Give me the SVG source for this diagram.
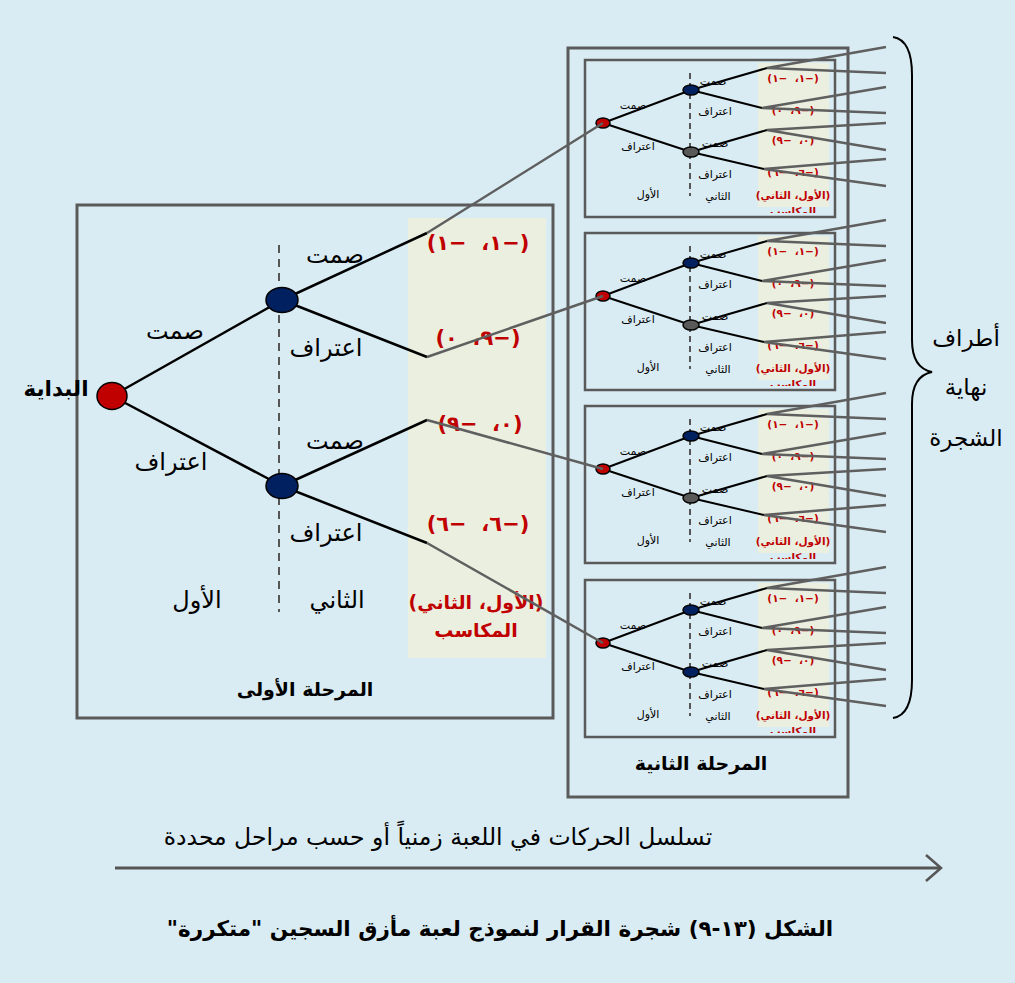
<svg xmlns="http://www.w3.org/2000/svg" xmlns:xlink="http://www.w3.org/1999/xlink" width="1015" height="983" viewBox="0 0 1015 983">
<style>
text{font-family:"DejaVu Sans","Liberation Sans",sans-serif;text-anchor:middle;fill:#000;direction:rtl}
.l{font-size:24px}
.m{font-size:23px}
.b{font-size:19px;font-weight:bold}
.pay{font-size:21px;font-weight:bold;fill:#c00000;white-space:pre}
.payl{font-size:19px;font-weight:bold;fill:#c00000}
.s{font-size:11px}
.sp{font-size:10.5px;font-weight:bold;fill:#c00000;white-space:pre}
.spl{font-size:10.5px;font-weight:bold;fill:#c00000}
.frame{fill:none;stroke:#5a5a5a;stroke-width:3}
.sframe{fill:none;stroke:#5a5a5a;stroke-width:2.5}
.beige{fill:#ebefdf}
.br{stroke:#000;stroke-width:2.5;fill:none}
.sbr{stroke:#000;stroke-width:2;fill:none}
.dash{stroke:#555;stroke-width:2;stroke-dasharray:8 6}
.sdash{stroke:#555;stroke-width:2;stroke-dasharray:6 4}
.gl{stroke:#5f5f5f;stroke-width:2.5;fill:none}
.red{fill:#c00000;stroke:#000;stroke-width:1.5}
.navy{fill:#002060;stroke:#000;stroke-width:1.5}
.gray{fill:#595959;stroke:#000;stroke-width:1.5}
</style>
<defs>
<clipPath id="sclip"><rect x="0" y="0" width="250" height="153"/></clipPath>
<g id="sub">
<rect class="beige" x="173" y="3" width="71" height="144"/>
<line class="sdash" x1="105" y1="13" x2="105" y2="136"/>
<text class="s" x="48" y="49">صمت</text>
<text class="s" x="53" y="90">اعتراف</text>
<text class="s" x="128" y="25">صمت</text>
<text class="s" x="130" y="55">اعتراف</text>
<text class="s" x="130" y="87">صمت</text>
<text class="s" x="130" y="118">اعتراف</text>
<text class="s" x="63" y="138">الأول</text>
<text class="s" x="133" y="140">الثاني</text>
<text class="sp" x="208" y="22">(−١،  −١)</text>
<text class="sp" x="208" y="54">(−٩،  ٠)</text>
<text class="sp" x="208" y="84">(٠،  −٩)</text>
<text class="sp" x="208" y="116">(−٦،  −٦)</text>
<g clip-path="url(#sclip)">
<text class="spl" x="208" y="139">(الأول، الثاني)</text>
<text class="spl" x="208" y="155">المكاسب</text>
</g>
<path class="sbr" d="M18,63 L106,30 M18,63 L106,92 M106,30 L182,8 M106,30 L177,48 M106,92 L182,70 M106,92 L179,109"/>
<ellipse class="red" cx="18" cy="63" rx="7" ry="5"/>
<ellipse class="navy" cx="106" cy="30" rx="8" ry="5"/>
<rect class="sframe" x="0" y="0" width="250" height="157"/>
</g>
</defs>
<rect x="0" y="0" width="1015" height="983" fill="#daecf3"/>

<g id="stage1">
<rect class="beige" x="408" y="218" width="138" height="440"/>
<line class="dash" x1="279" y1="245" x2="279" y2="612"/>
<path class="br" d="M112,396 L282,300 M112,396 L282,486 M282,300 L427,233 M282,300 L427,357 M282,486 L427,420 M282,486 L427,543"/>
<text class="l" x="335" y="263">صمت</text>
<text class="l" x="175" y="339">صمت</text>
<text class="l" x="326" y="356">اعتراف</text>
<text class="l" x="171" y="470">اعتراف</text>
<text class="l" x="335" y="449">صمت</text>
<text class="l" x="326" y="541">اعتراف</text>
<text class="l" x="197" y="608">الأول</text>
<text class="l" x="337" y="608">الثاني</text>
<text class="pay" x="478" y="250">(−١،  −١)</text>
<text class="pay" x="478" y="345">(−٩،  ٠)</text>
<text class="pay" x="480" y="431">(٠،  −٩)</text>
<text class="pay" x="478" y="531">(−٦،  −٦)</text>
<text class="payl" x="476" y="609">(الأول، الثاني)</text>
<text class="payl" x="476" y="637">المكاسب</text>
<text class="b" x="305" y="696">المرحلة الأولى</text>
<rect class="frame" x="77" y="205" width="476" height="513"/>
</g>
<g id="root"><ellipse class="red" cx="112" cy="396" rx="15" ry="13.5"/><text class="b" x="56" y="396" style="font-size:21.5px">البداية</text></g>
<g id="p1-upper"><ellipse class="navy" cx="282" cy="300" rx="16" ry="12.5"/></g>
<g id="p1-lower"><ellipse class="navy" cx="282" cy="486" rx="16" ry="12.5"/></g>

<g id="stage2">
<rect class="frame" x="568" y="48" width="280" height="749"/>
<text class="b" x="701" y="770">المرحلة الثانية</text>
</g>
<g id="box1" transform="translate(585,60)"><use xlink:href="#sub"/><ellipse class="gray" cx="106" cy="92" rx="8" ry="5"/></g>
<g id="box2" transform="translate(585,233)"><use xlink:href="#sub"/><ellipse class="gray" cx="106" cy="92" rx="8" ry="5"/></g>
<g id="box3" transform="translate(585,406)"><use xlink:href="#sub"/><ellipse class="gray" cx="106" cy="92" rx="8" ry="5"/></g>
<g id="box4" transform="translate(585,580)"><use xlink:href="#sub"/><ellipse class="navy" cx="106" cy="92" rx="8" ry="5"/></g>

<g id="connectors">
<path class="gl" d="M427,233 L603,123 M427,357 L603,296 M427,420 L603,469 M427,543 L603,643"/>
<path class="gl" d="M767,68 L886,47 M767,68 L886,73 M762,108 L886,87 M762,108 L886,113 M767,130 L886,123 M767,130 L886,150 M764,169 L886,159 M764,169 L886,186"/>
<path class="gl" d="M767,241 L886,220 M767,241 L886,246 M762,281 L886,260 M762,281 L886,286 M767,303 L886,296 M767,303 L886,323 M764,342 L886,332 M764,342 L886,359"/>
<path class="gl" d="M767,414 L886,393 M767,414 L886,419 M762,454 L886,433 M762,454 L886,459 M767,476 L886,469 M767,476 L886,496 M764,515 L886,505 M764,515 L886,532"/>
<path class="gl" d="M767,588 L886,567 M767,588 L886,593 M762,628 L886,607 M762,628 L886,633 M767,650 L886,643 M767,650 L886,670 M764,689 L886,679 M764,689 L886,706"/>
</g>

<g id="leaves">
<path d="M893,37 Q912,40 912,75 L912,340 Q912,368 932,372 Q912,376 912,404 L912,680 Q912,715 893,718" fill="none" stroke="#000" stroke-width="2"/>
<text class="m" x="966" y="346">أطراف</text>
<text class="m" x="966" y="395">نهاية</text>
<text class="m" x="966" y="446">الشجرة</text>
</g>

<g id="timeline">
<text class="m" x="438" y="845" style="font-size:23.5px">تسلسل الحركات في اللعبة زمنياً أو حسب مراحل محددة</text>
<line x1="115" y1="868" x2="940" y2="868" stroke="#555" stroke-width="3"/>
<path d="M926,855 L941,868 L926,881" fill="none" stroke="#555" stroke-width="2.5"/>
</g>
<text class="b" x="500" y="936" style="font-size:21.5px">الشكل (١٣-٩) شجرة القرار لنموذج لعبة مأزق السجين "متكررة"</text>
</svg>
